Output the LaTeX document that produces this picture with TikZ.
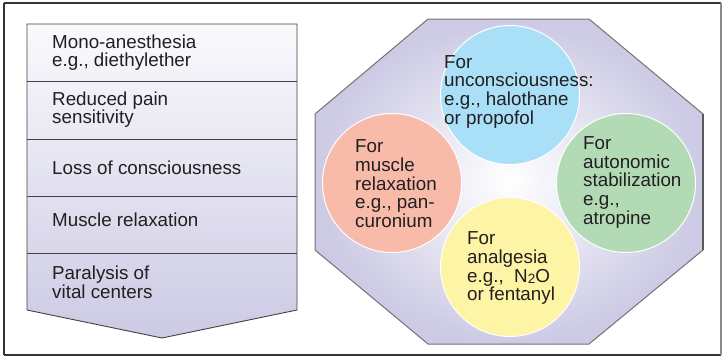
\documentclass[tikz,border=0pt]{standalone}
\usepackage{fontspec}
\setmainfont{Liberation Sans}
\definecolor{ink}{HTML}{231F20}
\definecolor{lav}{HTML}{CCCAE4}
\definecolor{lavtop}{HTML}{FAFAFD}
\definecolor{cblue}{HTML}{A9DFF7}
\definecolor{cred}{HTML}{F8BBA9}
\definecolor{cgreen}{HTML}{B2DBB5}
\definecolor{cyellow}{HTML}{FDF4A6}
\begin{document}
\begin{tikzpicture}[x=1pt,y=-1pt,
  txt/.style={inner sep=0pt, align=left, anchor=base west, text=ink,
    font=\fontsize{18.8}{18.6}\selectfont},
  disc/.style={circle, minimum size=139pt, inner sep=0pt, draw=white, line width=1pt},
  divider/.style={draw=ink!85, line width=0.9pt}]
\useasboundingbox (0,0) rectangle (722,357);
% outer frame
\draw[draw=black!80, line width=1.6pt] (4,3) -- (721,3);
\draw[draw=black!80, line width=1.6pt] (4,355) -- (721,355);
\draw[draw=black!80, line width=1.4pt] (4,3) -- (4,355);
\draw[draw=black!45, line width=1.2pt] (721,3) -- (721,355);
% left column
\coordinate (la) at (27,24);
\coordinate (lb) at (297,24);
\coordinate (lc) at (297,310);
\coordinate (ld) at (162,338);
\coordinate (le) at (27,310);
\shade[top color=lavtop, bottom color=lav] (la) -- (lb) -- (lc) -- (ld) -- (le) -- cycle;
\draw[draw=ink!85, line width=0.9pt] (la) -- (lb) -- (lc) -- (ld) -- (le) -- cycle;
\foreach \yy/\nm in {81/d1,139/d2,196/d3,253/d4}{
  \coordinate (\nm l) at (27,\yy);
  \coordinate (\nm r) at (297,\yy);
  \draw[divider] (\nm l) -- (\nm r);
}
% (anchor base = baseline of the last line)
\node[txt] (r1) at (52,66.9) {Mono-anesthesia\\e.g., diethylether};
\node[txt] (r2) at (52,123.8) {Reduced pain\\sensitivity};
\node[txt] (r3) at (52,174) {Loss of consciousness};
\node[txt] (r4) at (52,226.7) {Muscle relaxation};
\node[txt] (r5) at (52,298.3) {Paralysis of\\vital centers};
% octagon
\coordinate (o1) at (428,19);
\coordinate (o2) at (589,19);
\coordinate (o3) at (703,114);
\coordinate (o4) at (703,250);
\coordinate (o5) at (589,344);
\coordinate (o6) at (428,344);
\coordinate (o7) at (315,250);
\coordinate (o8) at (315,114);
\shade[inner color=white, outer color=lav] (o1) -- (o2) -- (o3) -- (o4) -- (o5) -- (o6) -- (o7) -- (o8) -- cycle;
\draw[draw=black!55, line width=1pt] (o1) -- (o2) -- (o3) -- (o4) -- (o5) -- (o6) -- (o7) -- (o8) -- cycle;
\draw[draw=black!65, line width=1.8pt] (o3) -- (o4);
% circles
\node[disc, fill=cblue] (cu) at (510,95) {};
\node[disc, fill=cred] (cm) at (392,183) {};
\node[disc, fill=cgreen] (ca) at (626,183) {};
\node[disc, fill=cyellow] (cn) at (510,267) {};
\node[txt] (tu) at (444,124) {For\\unconsciousness:\\e.g., halothane\\or propofol};
\node[txt] (tm) at (355,227.3) {For\\muscle\\relaxation\\e.g., pan-\\curonium};
\node[txt] (ta) at (583,224) {For\\autonomic\\stabilization\\e.g.,\\atropine};
\node[txt] (tn) at (467,300.7) {For\\analgesia\\e.g.,~~N\raisebox{-0.15ex}{\fontsize{13.5}{13.5}\selectfont 2}O\\or fentanyl};
\end{tikzpicture}
\end{document}
